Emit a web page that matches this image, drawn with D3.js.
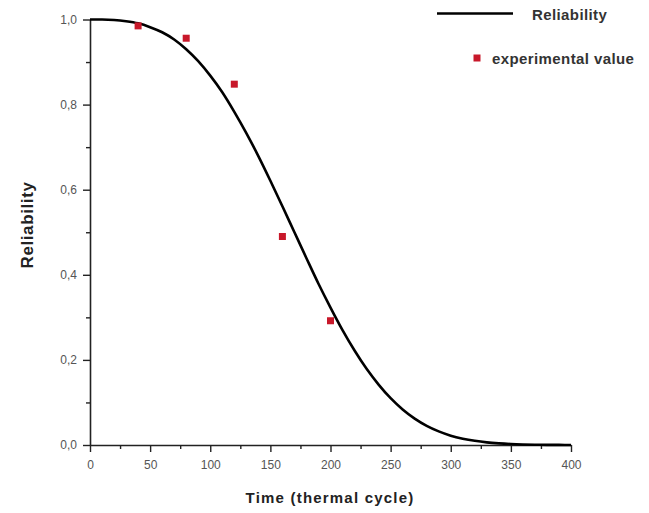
<!DOCTYPE html>
<html>
<head>
<meta charset="utf-8">
<script src="https://cdn.jsdelivr.net/npm/d3@7/dist/d3.min.js"></script>
<style>
  html, body { margin: 0; padding: 0; background: #fff; }
  svg { display: block; }
  text { font-family: "Liberation Sans", Arial, sans-serif; }
</style>
</head>
<body>
<svg id="chart" width="649" height="513"></svg>
<script>
// Fitted reliability curve, sampled every 10 thermal cycles
const curveTime = [0,10,20,30,40,50,60,70,80,90,100,110,120,130,140,150,160,170,180,190,200,
                   210,220,230,240,250,260,270,280,290,300,310,320,330,340,350,360,370,380,390,400];
const curveReliability = [1.000,1.000,0.999,0.996,0.991,0.982,0.970,0.953,0.930,0.902,0.868,
                          0.829,0.783,0.733,0.679,0.621,0.561,0.500,0.439,0.379,0.323,
                          0.270,0.222,0.179,0.142,0.110,0.0835,0.062,0.045,0.032,0.022,
                          0.0149,0.0098,0.0062,0.0039,0.0023,0.0013,0.0007,0.0004,0.0002,0.0001];

// Measured reliability
const expTime = [40, 80, 120, 160, 200];
const expReliability = [0.985, 0.956, 0.848, 0.49, 0.292];

const xTicks = [0, 50, 100, 150, 200, 250, 300, 350, 400];
const yTicks = [0, 0.2, 0.4, 0.6, 0.8, 1.0];
const xMinorTicks = [25, 75, 125, 175, 225, 275, 325, 375];
const yMinorTicks = [0.1, 0.3, 0.5, 0.7, 0.9];

const legendLabels = ["Reliability", "experimental value"];
const xTitle = "Time (thermal cycle)";
const yTitle = "Reliability";

const svg = d3.select("#chart");
const x = d3.scaleLinear().domain([0, 400]).range([90, 571]);
const y = d3.scaleLinear().domain([0, 1]).range([445, 19.5]);

const fmt = d => d3.format(".1f")(d).replace(".", ",");
const axisColor = "#222";
const labelColor = "#555";

// X axis
const gx = svg.append("g").attr("transform", `translate(0,${y(0)})`);
gx.call(d3.axisBottom(x).tickValues(xTicks).tickSize(7).tickSizeOuter(0).tickPadding(8).tickFormat(d3.format("d")));
gx.append("g").call(d3.axisBottom(x).tickValues(xMinorTicks).tickSize(4).tickSizeOuter(0).tickFormat(""))
  .select(".domain").remove();

// Y axis
const gy = svg.append("g").attr("transform", `translate(${x(0)},0)`);
gy.call(d3.axisLeft(y).tickValues(yTicks).tickSize(7).tickSizeOuter(0).tickPadding(6).tickFormat(fmt));
gy.append("g").call(d3.axisLeft(y).tickValues(yMinorTicks).tickSize(4).tickSizeOuter(0).tickFormat(""))
  .select(".domain").remove();

svg.selectAll(".domain").attr("stroke", axisColor).attr("stroke-width", 1.6);
svg.selectAll(".tick line").attr("stroke", axisColor).attr("stroke-width", 1.4);
svg.selectAll(".tick text")
  .attr("fill", labelColor)
  .style("font-size", "12px")
  .style("font-family", "'Liberation Sans', Arial, sans-serif");

// Axis titles
svg.append("text")
  .attr("x", 330).attr("y", 503)
  .attr("text-anchor", "middle")
  .style("font-size", "15px").style("font-weight", "bold")
  .style("letter-spacing", "1.2px")
  .attr("fill", "#222")
  .text(xTitle);

svg.append("text")
  .attr("transform", "translate(33,225) rotate(-90)")
  .attr("text-anchor", "middle")
  .style("font-size", "17px").style("font-weight", "bold")
  .style("letter-spacing", "0.6px")
  .attr("fill", "#222")
  .text(yTitle);

// Reliability curve
const curveData = curveTime.map((t, i) => [t, curveReliability[i]]);
svg.append("path")
  .datum(curveData)
  .attr("fill", "none")
  .attr("stroke", "#000")
  .attr("stroke-width", 2.6)
  .attr("d", d3.line().x(d => x(d[0])).y(d => y(d[1])).curve(d3.curveMonotoneX));

// Experimental points
const pts = expTime.map((t, i) => [t, expReliability[i]]);
const sq = 7;
svg.append("g").selectAll("rect").data(pts).join("rect")
  .attr("x", d => x(d[0]) - sq / 2)
  .attr("y", d => y(d[1]) - sq / 2)
  .attr("width", sq).attr("height", sq)
  .attr("fill", "#c8182a");

// Legend
const lg = svg.append("g");
lg.append("line")
  .attr("x1", 437).attr("x2", 513).attr("y1", 13.5).attr("y2", 13.5)
  .attr("stroke", "#000").attr("stroke-width", 2.6);
lg.append("text")
  .attr("x", 532).attr("y", 20)
  .style("font-size", "15px").style("font-weight", "bold")
  .style("letter-spacing", "0.4px")
  .attr("fill", "#333")
  .text(legendLabels[0]);
lg.append("rect")
  .attr("x", 477 - 3.5).attr("y", 58 - 3.5).attr("width", 7).attr("height", 7)
  .attr("fill", "#c8182a");
lg.append("text")
  .attr("x", 492).attr("y", 63.5)
  .style("font-size", "15px").style("font-weight", "bold")
  .style("letter-spacing", "0.4px")
  .attr("fill", "#333")
  .text(legendLabels[1]);
</script>
</body>
</html>
